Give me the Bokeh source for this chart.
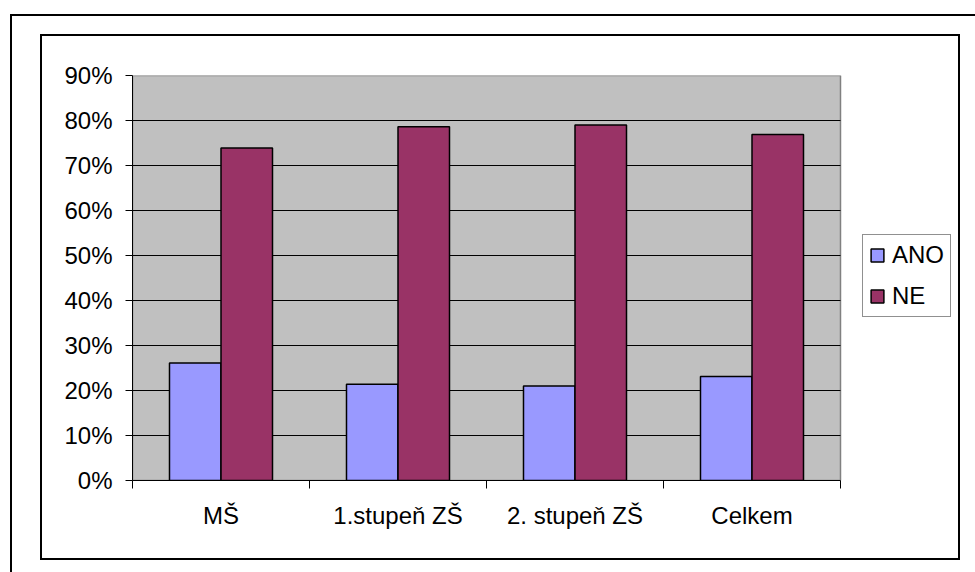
from bokeh.plotting import figure
from bokeh.models import Range1d, FixedTicker, Legend, LegendItem
from bokeh.embed import file_html
from bokeh.resources import INLINE
import numpy as np

# Survey answers by school level (share of respondents, %)
categories = ["MŠ", "1.stupeň ZŠ", "2. stupeň ZŠ", "Celkem"]
ano = [26.1, 21.4, 21.0, 23.1]
ne = [73.9, 78.6, 79.0, 76.9]
series_names = ["ANO", "NE"]
y_ticks = [0, 10, 20, 30, 40, 50, 60, 70, 80, 90]
y_tick_labels = ["0%", "10%", "20%", "30%", "40%", "50%", "60%", "70%", "80%", "90%"]

FONT = "Liberation Sans"
n = len(categories)
centers = np.arange(n) + 0.5
bar_w = 0.291

# the frame is wider than the grey plot area so the legend can sit at its right
AREA_PX = 708
FRAME_PX = 823
x_end = n * FRAME_PX / AREA_PX

p = figure(
    width=916, height=522,
    x_range=Range1d(0, x_end), y_range=Range1d(0, 90),
    output_backend="svg", toolbar_location=None,
    min_border_left=90, min_border_right=916 - 90 - FRAME_PX,
    min_border_top=39, min_border_bottom=78,
    background_fill_color="white", border_fill_color="white",
    outline_line_color=None,
    margin=(36, 0, 0, 42),
    styles={"box-shadow": "0 0 0 2px #000, 30px 40px 0 60px #fff, 28px 38px 0 60px #000"},
)

# grey plot area with its grey border (left/bottom hidden under the axes)
p.quad(left=0, right=n, bottom=0, top=90, fill_color="#C0C0C0",
       line_color="#808080", line_width=1.5, level="underlay")

# horizontal grid lines across the plot area
grid_y = y_ticks[1:-1]
p.segment(x0=[0] * len(grid_y), x1=[n] * len(grid_y), y0=grid_y, y1=grid_y,
          line_color="black", line_width=1, level="underlay")

r_ano = p.vbar(x=centers - bar_w / 2, top=ano, width=bar_w, bottom=0,
               fill_color="#9999FF", line_color="black", line_width=1.5)
r_ne = p.vbar(x=centers + bar_w / 2, top=ne, width=bar_w, bottom=0,
              fill_color="#993366", line_color="black", line_width=1.5)

p.xgrid.visible = False
p.ygrid.visible = False

# y axis
p.yaxis.ticker = FixedTicker(ticks=y_ticks)
p.yaxis.major_label_overrides = {t: lab for t, lab in zip(y_ticks, y_tick_labels)}
p.yaxis.major_tick_out = 7
p.yaxis.major_tick_in = 0
p.yaxis.minor_tick_line_color = None
p.yaxis.major_label_standoff = 13
p.yaxis.axis_line_color = "black"
p.yaxis.major_tick_line_color = "black"

# x axis: labels centred on groups, tick marks on group boundaries
p.xaxis.bounds = (0, n)
p.xaxis.ticker = FixedTicker(ticks=list(centers), minor_ticks=list(range(n + 1)))
p.xaxis.major_label_overrides = {float(c): lab for c, lab in zip(centers, categories)}
p.xaxis.major_tick_out = 0
p.xaxis.major_tick_in = 0
p.xaxis.minor_tick_out = 8
p.xaxis.minor_tick_in = 0
p.xaxis.minor_tick_line_color = "black"
p.xaxis.major_label_standoff = 13
p.xaxis.axis_line_color = "black"

for ax in (p.xaxis, p.yaxis):
    ax.major_label_text_font = FONT
    ax.major_label_text_font_size = "24px"
    ax.major_label_text_color = "black"

legend = Legend(
    items=[LegendItem(label=series_names[0], renderers=[r_ano]),
           LegendItem(label=series_names[1], renderers=[r_ne])],
    location=(730, 163),
    label_text_font=FONT, label_text_font_size="24px", label_text_color="black",
    glyph_width=16, glyph_height=16, label_standoff=7,
    padding=6, spacing=13, margin=0,
    border_line_color="#222222", border_line_width=1,
    background_fill_color="white", background_fill_alpha=1,
)
p.add_layout(legend, "center")

open("out.html", "w").write(file_html(p, INLINE))
